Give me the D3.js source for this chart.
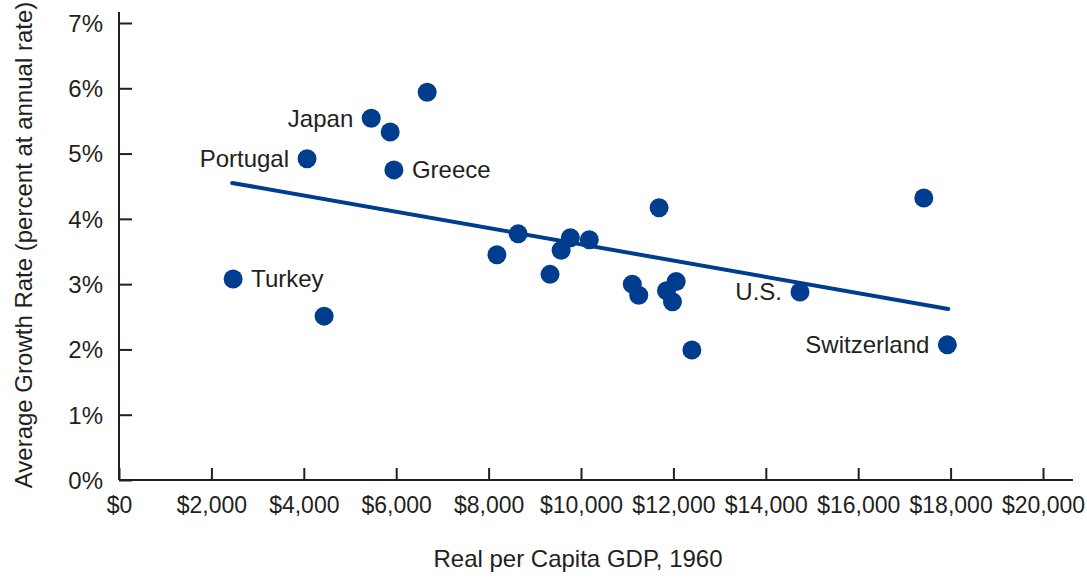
<!DOCTYPE html>
<html>
<head>
<meta charset="utf-8">
<script src="https://d3js.org/d3.v7.min.js"></script>
<style>
  html, body { margin: 0; padding: 0; background: #fff; overflow: hidden; }
  svg text { font-family: "Liberation Sans", Arial, sans-serif; fill: #231f20; }
</style>
</head>
<body>
<svg id="chart" width="1087" height="579"></svg>
<script>
// Datos
const gdp1960 = [2470, 4440, 4070, 5460, 5870, 5950, 6670, 8180, 8640, 9330, 9570, 9770, 10180,
                 11690, 11110, 11250, 11850, 12060, 11980, 12400, 14740, 17420, 17930];
const growth  = [3.08, 2.51, 4.92, 5.54, 5.33, 4.75, 5.94, 3.45, 3.77, 3.15, 3.52, 3.71, 3.68,
                 4.17, 3.00, 2.83, 2.90, 3.04, 2.73, 1.99, 2.88, 4.32, 2.07];
const countryLabels = ["Turkey", "", "Portugal", "Japan", "", "Greece", "", "", "", "", "", "", "",
                       "", "", "", "", "", "", "", "U.S.", "", "Switzerland"];
const labelSide = ["right", "", "left", "left", "", "right", "", "", "", "", "", "", "",
                   "", "", "", "", "", "", "", "left", "", "left"];
const trendX = [2450, 17950];
const trendY = [4.55, 2.62];
const xTicks = [0, 2000, 4000, 6000, 8000, 10000, 12000, 14000, 16000, 18000, 20000];
const yTicks = [0, 1, 2, 3, 4, 5, 6, 7];

const svg = d3.select("#chart");
const blue = "#003d8f";
const fs = 24;

const x = d3.scaleLinear().domain([0, 20000]).range([119, 1043]);
const y = d3.scaleLinear().domain([0, 7]).range([480, 23]);

// Ejes
const xAxis = d3.axisBottom(x).tickValues(xTicks).tickSizeInner(-12).tickSizeOuter(0)
  .tickPadding(17).tickFormat(d => "$" + d3.format(",")(d));
const gx = svg.append("g").attr("transform", "translate(0,480)").call(xAxis);
gx.select(".domain").attr("d", "M119,0H1073");

const yAxis = d3.axisLeft(y).tickValues(yTicks).tickSizeInner(-13).tickSizeOuter(0)
  .tickPadding(16).tickFormat(d => d + "%");
const gy = svg.append("g").attr("transform", "translate(119,0)").call(yAxis);
gy.select(".domain").attr("d", "M0,480V12");

svg.selectAll(".domain, .tick line").attr("stroke", "#231f20").attr("stroke-width", 2);
svg.selectAll(".tick text").attr("fill", "#231f20")
  .style("font-family", "'Liberation Sans', Arial, sans-serif");
gx.selectAll(".tick text").attr("font-size", 23);
gy.selectAll(".tick text").attr("font-size", fs).attr("dy", "0.35em");

// Títulos
svg.append("text").attr("x", 578).attr("y", 567).attr("text-anchor", "middle")
  .attr("font-size", fs).text("Real per Capita GDP, 1960");
svg.append("text").attr("transform", "translate(32,245) rotate(-90)")
  .attr("text-anchor", "middle").attr("font-size", fs)
  .text("Average Growth Rate (percent at annual rate)");

// Línea de tendencia
svg.append("line")
  .attr("x1", x(trendX[0])).attr("y1", y(trendY[0]))
  .attr("x2", x(trendX[1])).attr("y2", y(trendY[1]))
  .attr("stroke", blue).attr("stroke-width", 4).attr("stroke-linecap", "round");

// Puntos
const data = gdp1960.map((g, i) => ({ g, r: growth[i], label: countryLabels[i], side: labelSide[i] }));
svg.append("g").selectAll("circle").data(data).join("circle")
  .attr("cx", d => x(d.g)).attr("cy", d => y(d.r)).attr("r", 9.5).attr("fill", blue);

// Etiquetas de países
svg.append("g").selectAll("text").data(data.filter(d => d.label)).join("text")
  .attr("x", d => x(d.g) + (d.side === "left" ? -18 : 18))
  .attr("y", d => y(d.r)).attr("dy", "0.35em")
  .attr("text-anchor", d => d.side === "left" ? "end" : "start")
  .attr("font-size", fs).text(d => d.label);
</script>
</body>
</html>
